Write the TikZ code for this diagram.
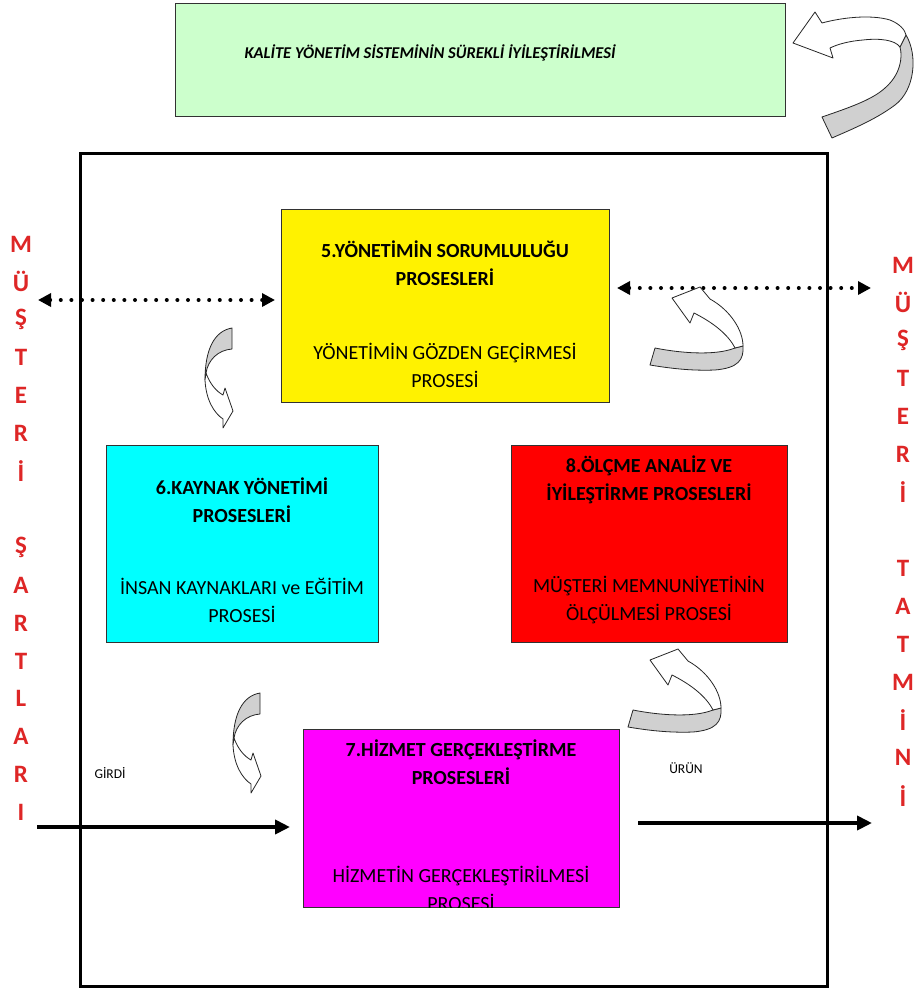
\documentclass[tikz,border=0pt]{standalone}
\usepackage{fontspec}
\setmainfont{Carlito}
\usetikzlibrary{arrows.meta}

\definecolor{kgreen}{RGB}{204,255,204}
\definecolor{kred}{RGB}{222,38,38}
\definecolor{kcyan}{RGB}{0,255,255}
\definecolor{kmag}{RGB}{255,0,255}
\definecolor{kgray}{RGB}{208,208,208}
\definecolor{kedge}{RGB}{50,50,50}

\tikzset{
  procbox/.style={draw=kedge, line width=0.9pt, anchor=north west, inner sep=0pt},
  headtxt/.style={font=\fontsize{20}{28}\selectfont\bfseries, align=center, inner sep=0pt},
  bodytxt/.style={font=\fontsize{20}{28}\selectfont, align=center, inner sep=0pt},
  smalltxt/.style={font=\fontsize{13.5}{15}\selectfont, inner sep=0pt},
  sideletter/.style={font=\bfseries\fontsize{25}{25}\selectfont, text=kred, inner sep=0pt},
  dotline/.style={line width=4pt, dash pattern=on 0pt off 10.6pt, line cap=round,
    {Triangle[length=13pt,width=13pt]}-{Triangle[length=13pt,width=13pt]}},
  flowline/.style={line width=4pt, -{Triangle[length=15pt,width=14pt]}},
  ribbonfront/.style={draw=black!85, fill=white, line width=0.8pt, line join=round},
  ribbonback/.style={draw=black!85, fill=kgray, line width=0.8pt, line join=round},
}

% curved ribbon arrow turning up-left (front face white, back face grey)
\newcommand{\upcurl}{%
  \path[ribbonback] (743,346) .. controls (744,360) and (738,368) .. (715,370)
    .. controls (690,371) and (668,368) .. (650,365) -- (655,348)
    .. controls (680,353) and (715,356) .. (735,348) -- cycle;
  \path[ribbonfront] (700,287) -- (672,298) -- (690,323) -- (694,313)
    .. controls (712,322) and (728,334) .. (735,348) -- (743,346)
    .. controls (743,330) and (730,310) .. (710,299) -- cycle;
}
% curved ribbon arrow turning down
\newcommand{\downcurl}{%
  \path[ribbonback] (232,328) .. controls (214,331) and (205,350) .. (205,380)
    -- (206,373) .. controls (208,360) and (218,350) .. (232,349) -- cycle;
  \path[ribbonfront] (206,373) .. controls (210,384) and (216,391) .. (223,395)
    -- (225,388) -- (233,411) -- (223,428) -- (223,419)
    .. controls (214,413) and (206,400) .. (205,380) -- cycle;
}

\begin{document}
\begin{tikzpicture}[x=1pt,y=-1pt]
\useasboundingbox (0,0) rectangle (921,991);
\fill[white] (0,0) rectangle (921,991);

% improvement banner
\node[procbox, fill=kgreen, minimum width=610pt, minimum height=113pt] (kys) at (175,3) {};
\node[font=\bfseries\itshape\fontsize{16.5}{18}\selectfont, inner sep=0pt] (kyst) at (430,53)
  {KALİTE YÖNETİM SİSTEMİNİN SÜREKLİ İYİLEŞTİRİLMESİ};

% system frame
\node[draw, line width=3pt, anchor=north west, minimum width=747pt, minimum height=833pt, inner sep=0pt] (frame) at (79,152) {};

% process boxes
\node[procbox, fill=yellow, minimum width=328pt, minimum height=193pt] (p5) at (281,209) {};
\node[headtxt] (p5h) at (445,263) {5.YÖNETİMİN SORUMLULUĞU\\PROSESLERİ};
\node[bodytxt] (p5b) at (445,365) {YÖNETİMİN GÖZDEN GEÇİRMESİ\\PROSESİ};

\node[procbox, fill=kcyan, minimum width=272pt, minimum height=197pt] (p6) at (106,445) {};
\node[headtxt] (p6h) at (242,500) {6.KAYNAK YÖNETİMİ\\PROSESLERİ};
\node[bodytxt] (p6b) at (242,600) {İNSAN KAYNAKLARI ve EĞİTİM\\PROSESİ};

\node[procbox, fill=red, minimum width=276pt, minimum height=197pt] (p8) at (511,445) {};
\node[headtxt] (p8h) at (649,480) {8.ÖLÇME ANALİZ VE\\İYİLEŞTİRME PROSESLERİ};
\node[bodytxt] (p8b) at (649,600) {MÜŞTERİ MEMNUNİYETİNİN\\ÖLÇÜLMESİ PROSESİ};

\node[procbox, fill=kmag, minimum width=316pt, minimum height=178pt] (p7) at (303,729) {};
\node[headtxt] (p7h) at (461,762) {7.HİZMET GERÇEKLEŞTİRME\\PROSESLERİ};
\begin{scope}
  \clip (303,729) rectangle (619,907);
  \node[bodytxt] (p7b) at (461,888) {HİZMETİN GERÇEKLEŞTİRİLMESİ\\PROSESİ};
\end{scope}

% customer requirement / satisfaction exchanges
\coordinate (dl0) at (38,300);
\coordinate (dl1) at (275,300);
\coordinate (dr0) at (617,288);
\coordinate (dr1) at (871,288);
\draw[dotline] (dl0) -- (dl1);
\draw[dotline] (dr0) -- (dr1);

% input and output flows
\coordinate (in0) at (37,827);
\coordinate (in1) at (290,827);
\coordinate (out0) at (638,823);
\coordinate (out1) at (872,823);
\draw[flowline] (in0) -- (in1);
\draw[flowline] (out0) -- (out1);
\node[smalltxt] (girdi) at (110,773) {GİRDİ};
\node[smalltxt] (urun) at (686,768) {ÜRÜN};

% curved cycle arrows
\upcurl
\begin{scope}[shift={(-22,362)}]\upcurl\end{scope}
\downcurl
\begin{scope}[shift={(28,365)}]\downcurl\end{scope}

% large return arrow beside the banner
\path[ribbonback] (906,35) .. controls (918,55) and (915,90) .. (895,105)
  .. controls (875,120) and (850,130) .. (832,138) -- (822,117)
  .. controls (848,108) and (872,100) .. (885,88)
  .. controls (900,75) and (903,58) .. (900,47) -- cycle;
\path[ribbonfront] (900,47) .. controls (895,40) and (880,38) .. (863,40)
  .. controls (850,41) and (838,44) .. (830,48) -- (833,58) -- (793,43)
  -- (815,12) -- (822,23) .. controls (840,18) and (870,14) .. (890,20)
  .. controls (900,24) and (905,30) .. (906,35) -- cycle;

% vertical side labels
\foreach \ch [count=\i from 0] in {M,Ü,Ş,T,E,R,İ,,Ş,A,R,T,L,A,R,I}
  \node[sideletter] (sl\i) at (21,{244+37.9*\i}) {\ch};
\foreach \ch [count=\i from 0] in {M,Ü,Ş,T,E,R,İ,,T,A,T,M,İ,N,İ}
  \node[sideletter] (sr\i) at (903,{265+37.9*\i}) {\ch};
\end{tikzpicture}
\end{document}
